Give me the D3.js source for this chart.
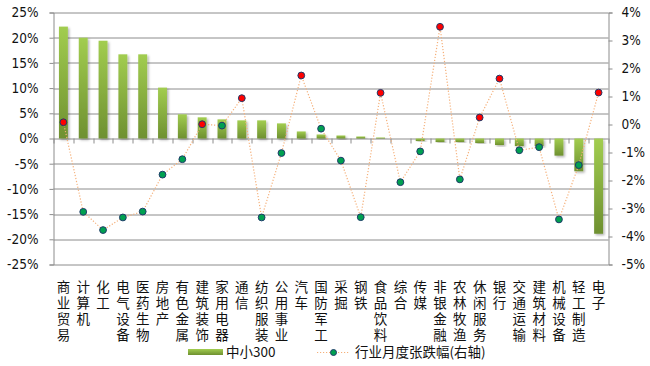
<!DOCTYPE html>
<html>
<head>
<meta charset="utf-8">
<script src="https://cdn.jsdelivr.net/npm/d3@7"></script>
<style>
  body { margin: 0; background: #fff; }
  #plot svg { display: block; }
  .tick text { font-family: "DejaVu Sans Condensed", "DejaVu Sans", sans-serif; }
</style>
</head>
<body>
<div id="plot"></div>
<script>
// 行业名称
var industries = ["商业贸易", "计算机", "化工", "电气设备", "医药生物", "房地产", "有色金属",
    "建筑装饰", "家用电器", "通信", "纺织服装", "公用事业", "汽车", "国防军工", "采掘", "钢铁",
    "食品饮料", "综合", "传媒", "非银金融", "农林牧渔", "休闲服务", "银行", "交通运输",
    "建筑材料", "机械设备", "轻工制造", "电子"];

// 中小300 (左轴, %)
var zx300 = [22.2, 20.0, 19.4, 16.7, 16.7, 10.1, 4.8, 4.2, 3.8, 3.6, 3.6, 3.0, 1.4, 0.8,
    0.6, 0.4, 0.2, 0.0, -0.5, -0.7, -0.7, -0.9, -1.3, -1.5, -1.5, -3.4, -6.5, -18.9];

// 行业月度张跌幅 (右轴, %)
var monthly = [0.08, -3.12, -3.77, -3.32, -3.11, -1.79, -1.24, 0.01, -0.04, 0.94, -3.32, -1.02,
    1.75, -0.15, -1.29, -3.31, 1.13, -2.06, -0.96, 3.49, -1.96, 0.25, 1.64, -0.92, -0.81,
    -3.39, -1.45, 1.14];

var leftTicks = [25, 20, 15, 10, 5, 0, -5, -10, -15, -20, -25];
var rightTicks = [4, 3, 2, 1, 0, -1, -2, -3, -4, -5];

var seriesNames = ["中小300", "行业月度张跌幅(右轴)"];

var width = 650, height = 366;
var margin = {top: 12.5, left: 53.5, right: 41.5, bottom: 101.5};
var plotW = width - margin.left - margin.right;
var plotH = height - margin.top - margin.bottom;

var svg = d3.select("#plot").append("svg")
    .attr("width", width)
    .attr("height", height);

var defs = svg.append("defs");
var grad = defs.append("linearGradient")
    .attr("id", "barGrad")
    .attr("x1", 0).attr("y1", 0).attr("x2", 0).attr("y2", 1);
grad.append("stop").attr("offset", "0%").attr("stop-color", "#a2cd50");
grad.append("stop").attr("offset", "100%").attr("stop-color", "#6e9030");

var legGrad = defs.append("linearGradient")
    .attr("id", "legGrad")
    .attr("x1", 0).attr("y1", 0).attr("x2", 0).attr("y2", 1);
legGrad.append("stop").attr("offset", "0%").attr("stop-color", "#a2cd50");
legGrad.append("stop").attr("offset", "100%").attr("stop-color", "#6e9030");

var shadow = defs.append("filter").attr("id", "shadow")
    .attr("x", "-50%").attr("y", "-20%").attr("width", "200%").attr("height", "140%");
shadow.append("feDropShadow")
    .attr("dx", 1.5).attr("dy", 1.5).attr("stdDeviation", 1)
    .attr("flood-color", "#000").attr("flood-opacity", 0.3);

var g = svg.append("g")
    .attr("transform", "translate(" + margin.left + "," + margin.top + ")");

var x = d3.scaleBand()
    .domain(industries)
    .range([0, plotW])
    .paddingInner(0.55)
    .paddingOuter(0.275);

var yL = d3.scaleLinear().domain([-25, 25]).range([plotH, 0]);
var yR = d3.scaleLinear().domain([-5, 4]).range([plotH, 0]);

// 网格线
g.selectAll(".grid")
    .data(leftTicks)
    .enter().append("line")
    .attr("x1", 0).attr("x2", plotW)
    .attr("y1", function(d) { return Math.round(yL(d)) + 0.5; })
    .attr("y2", function(d) { return Math.round(yL(d)) + 0.5; })
    .style("stroke", "#8c8c8c")
    .style("stroke-width", 1);

// 柱子
g.selectAll(".bar")
    .data(industries)
    .enter().append("rect")
    .attr("x", function(d) { return x(d); })
    .attr("y", function(d, i) { return yL(Math.max(0, zx300[i])); })
    .attr("width", x.bandwidth())
    .attr("height", function(d, i) { return Math.abs(yL(zx300[i]) - yL(0)); })
    .style("fill", "url(#barGrad)")
    .attr("filter", "url(#shadow)");

// 左轴
var axisL = g.append("g")
    .call(d3.axisLeft(yL).tickValues(leftTicks).tickSize(4).tickPadding(11)
        .tickFormat(function(d) { return d + "%"; }));
// 右轴
var axisR = g.append("g")
    .attr("transform", "translate(" + plotW + ",0)")
    .call(d3.axisRight(yR).tickValues(rightTicks).tickSize(4).tickPadding(9)
        .tickFormat(function(d) { return d + "%"; }));

[axisL, axisR].forEach(function(a) {
    a.select(".domain").style("stroke", "#8c8c8c");
    a.selectAll(".tick line").style("stroke", "#8c8c8c");
    a.selectAll(".tick text")
        .style("font-size", "13.5px")
        .style("fill", "#111");
});

// x轴刻度
var bounds = d3.range(industries.length + 1);
g.selectAll(".xtick")
    .data(bounds)
    .enter().append("line")
    .attr("x1", function(d) { return Math.round(d * x.step()) + 0.5; })
    .attr("x2", function(d) { return Math.round(d * x.step()) + 0.5; })
    .attr("y1", Math.round(yL(0)))
    .attr("y2", Math.round(yL(0)) + 5)
    .style("stroke", "#8c8c8c");

// 行业标签 (竖排)
g.selectAll(".cat")
    .data(industries)
    .enter().append("text")
    .attr("x", function(d) { return x(d) + x.bandwidth() / 2; })
    .attr("y", plotH + 16)
    .style("writing-mode", "vertical-rl")
    .style("text-orientation", "upright")
    .style("letter-spacing", "2.3px")
    .style("font-family", "'Noto Sans CJK SC', sans-serif")
    .style("font-size", "13.5px")
    .style("fill", "#111")
    .text(function(d) { return d; });

// 折线
var line = d3.line()
    .x(function(d, i) { return x(industries[i]) + x.bandwidth() / 2; })
    .y(function(d) { return yR(d); });

g.append("path")
    .datum(monthly)
    .attr("d", line)
    .style("fill", "none")
    .style("stroke", "#f5b07a")
    .style("stroke-width", 1.2)
    .style("stroke-dasharray", "1.2,1.8");

g.selectAll(".dot")
    .data(monthly)
    .enter().append("circle")
    .attr("cx", function(d, i) { return x(industries[i]) + x.bandwidth() / 2; })
    .attr("cy", function(d) { return yR(d); })
    .attr("r", 3.4)
    .style("fill", function(d) { return d >= 0 ? "#ff0000" : "#00a050"; })
    .style("stroke", "#1f3a6a")
    .style("stroke-width", 1);

// 图例
var legend = svg.append("g")
    .style("font-family", "'Noto Sans CJK SC', sans-serif")
    .style("font-size", "13.5px");

legend.append("rect")
    .attr("x", 188).attr("y", 349)
    .attr("width", 35).attr("height", 6)
    .style("fill", "url(#legGrad)");
legend.append("text")
    .attr("x", 226).attr("y", 357)
    .style("fill", "#111")
    .text(seriesNames[0]);

legend.append("line")
    .attr("x1", 317).attr("x2", 350)
    .attr("y1", 352.5).attr("y2", 352.5)
    .style("stroke", "#f5b07a")
    .style("stroke-dasharray", "1.2,1.8");
legend.append("circle")
    .attr("cx", 333.5).attr("cy", 352.5).attr("r", 3)
    .style("fill", "#00a050")
    .style("stroke", "#1f3a6a");
legend.append("text")
    .attr("x", 355).attr("y", 357)
    .style("fill", "#111")
    .text(seriesNames[1]);
</script>
</body>
</html>
